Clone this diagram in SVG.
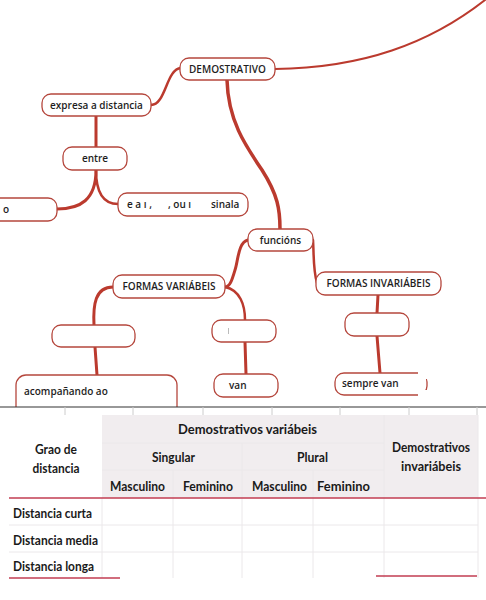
<svg xmlns="http://www.w3.org/2000/svg" width="486" height="600" viewBox="0 0 486 600">
<style>
.n rect{fill:#fff;stroke:#b5473d;stroke-width:1.3}
.n rect.mask{stroke:none}
.n text{font-family:"Open Sans","DejaVu Sans",sans-serif;font-weight:600;font-size:10px;fill:#1e1e1e}
.c path{fill:none;stroke:#bb3a2e;stroke-linecap:round}
.t text{font-family:Lato,"Liberation Sans",sans-serif;font-weight:700;font-size:13px;fill:#1a1a1a}
.g{stroke:#ebe8ea;stroke-width:1;fill:none}
.r{stroke:#c23c52;stroke-width:1.6}
</style>
<rect width="486" height="600" fill="#fff"/>
<g class="c">
<path d="M275,69 C360,68 430,45 490,-4" stroke-width="2"/>
<path d="M181,68 C166,69 166,105 151,105" stroke-width="2.5"/>
<path d="M227,80 C228,120 245,145 262,170 C278,195 280,210 280,229" stroke-width="3.5"/>
<path d="M96,116 L96,147" stroke-width="3"/>
<path d="M96,170 C96,200 80,209 57,209" stroke-width="3"/>
<path d="M96,170 C96,195 105,204 118,204" stroke-width="2.5"/>
<path d="M248,240 C238,242 238,262 235,270 C232,280 230,287 225,287" stroke-width="3"/>
<path d="M313,240 C314,255 313,270 317,283" stroke-width="2.5"/>
<path d="M113,287 C95,287 93,305 94,325" stroke-width="3"/>
<path d="M225,287 C240,290 245,305 245,320" stroke-width="2.5"/>
<path d="M95,347 L97,375" stroke-width="3"/>
<path d="M245,342 L246,374" stroke-width="3"/>
<path d="M378,295 L377,313" stroke-width="3"/>
<path d="M377,336 L380,373" stroke-width="3"/>
</g>
<g id="n-demostrativo" class="n"><rect x="180" y="58" width="95" height="22" rx="9"/><text x="227.5" y="72.5" text-anchor="middle">DEMOSTRATIVO</text></g>
<g id="n-expresa" class="n"><rect x="42" y="94" width="109" height="22" rx="9"/><text x="96.5" y="108.5" text-anchor="middle">expresa a distancia</text></g>
<g id="n-entre" class="n"><rect x="63" y="147" width="64" height="23" rx="9"/><text x="95" y="162" text-anchor="middle">entre</text></g>
<g id="n-o" class="n"><rect x="-10" y="198" width="67" height="23" rx="9"/><text x="3" y="213">o</text></g>
<g id="n-sinala" class="n"><rect x="118" y="193" width="130" height="23" rx="9"/><text x="127" y="208">e a ı ,</text><text x="168" y="208">, ou ı</text><text x="211" y="208">sinala</text></g>
<g id="n-funcions" class="n"><rect x="248" y="229" width="65" height="22" rx="9"/><text x="280.5" y="243.5" text-anchor="middle">funcións</text></g>
<g id="n-fvar" class="n"><rect x="113" y="275" width="112" height="23" rx="9"/><text x="169" y="290" text-anchor="middle">FORMAS VARIÁBEIS</text></g>
<g id="n-finv" class="n"><rect x="316" y="272" width="125" height="23" rx="9"/><text x="378.5" y="287" text-anchor="middle">FORMAS INVARIÁBEIS</text></g>
<g id="n-empty1" class="n"><rect x="52" y="325" width="83" height="22" rx="9"/></g>
<g id="n-empty2" class="n"><rect x="212" y="320" width="64" height="22" rx="9"/><line x1="228.5" y1="328" x2="228.5" y2="334" stroke="#bbb" stroke-width="1"/></g>
<g id="n-empty3" class="n"><rect x="345" y="313" width="64" height="23" rx="9"/></g>
<g id="n-acompanando" class="n"><rect x="16" y="375" width="161" height="44" rx="10"/><text x="24" y="395">acompañando ao</text></g>
<g id="n-van" class="n"><rect x="214" y="374" width="64" height="23" rx="9"/><text x="229" y="389">van</text></g>
<g id="n-semprevan" class="n"><rect x="335" y="373" width="92" height="22" rx="9"/><rect class="mask" x="418" y="371" width="12" height="8"/><rect class="mask" x="418" y="390" width="12" height="7"/><text x="342" y="387">sempre van</text></g>
<rect x="0" y="407" width="486" height="193" fill="#fff"/>
<line x1="0" y1="407" x2="486" y2="407" stroke="#333" stroke-width="1.2"/>
<g stroke="#ccc" stroke-width="1">
<line x1="65" y1="407" x2="65" y2="415"/><line x1="133" y1="407" x2="133" y2="415"/><line x1="203" y1="407" x2="203" y2="415"/><line x1="272" y1="407" x2="272" y2="415"/><line x1="340" y1="407" x2="340" y2="415"/><line x1="409" y1="407" x2="409" y2="415"/><line x1="477" y1="407" x2="477" y2="415"/>
</g>
<g id="table" class="t">
<rect x="102" y="415" width="376" height="83" fill="#f1edef"/>
<path class="g" d="M102,443 H384 M102,470 H384 M242,443 V498 M173,470 V498 M313,470 V498 M384,415 V498"/>
<path class="g" d="M9,525 H478 M9,552 H478 M102,498 V578 M173,498 V578 M242,498 V578 M313,498 V578 M384,498 V578 M478,415 V578"/>
<line class="r" x1="9" y1="498" x2="486" y2="498"/>
<line class="r" x1="9" y1="578" x2="120" y2="578"/>
<line class="r" x1="376" y1="576" x2="477" y2="576"/>
<text x="247.5" y="434" text-anchor="middle" textLength="139" lengthAdjust="spacingAndGlyphs">Demostrativos variábeis</text>
<text x="56" y="454" text-anchor="middle" textLength="42" lengthAdjust="spacingAndGlyphs">Grao de</text>
<text x="56" y="473" text-anchor="middle" textLength="47" lengthAdjust="spacingAndGlyphs">distancia</text>
<text x="173.5" y="462" text-anchor="middle" textLength="43" lengthAdjust="spacingAndGlyphs">Singular</text>
<text x="312.5" y="462" text-anchor="middle" textLength="31" lengthAdjust="spacingAndGlyphs">Plural</text>
<text x="137.5" y="491" text-anchor="middle" textLength="55" lengthAdjust="spacingAndGlyphs">Masculino</text>
<text x="208" y="491" text-anchor="middle" textLength="50" lengthAdjust="spacingAndGlyphs">Feminino</text>
<text x="279.5" y="491" text-anchor="middle" textLength="55" lengthAdjust="spacingAndGlyphs">Masculino</text>
<text x="343.5" y="491" text-anchor="middle" textLength="53" lengthAdjust="spacingAndGlyphs">Feminino</text>
<text x="431" y="452" text-anchor="middle" textLength="78" lengthAdjust="spacingAndGlyphs">Demostrativos</text>
<text x="431" y="471" text-anchor="middle" textLength="60" lengthAdjust="spacingAndGlyphs">invariábeis</text>
<text x="13" y="518" textLength="79" lengthAdjust="spacingAndGlyphs">Distancia curta</text>
<text x="13" y="545" textLength="85" lengthAdjust="spacingAndGlyphs">Distancia media</text>
<text x="13" y="571" textLength="81" lengthAdjust="spacingAndGlyphs">Distancia longa</text>
</g>
</svg>
